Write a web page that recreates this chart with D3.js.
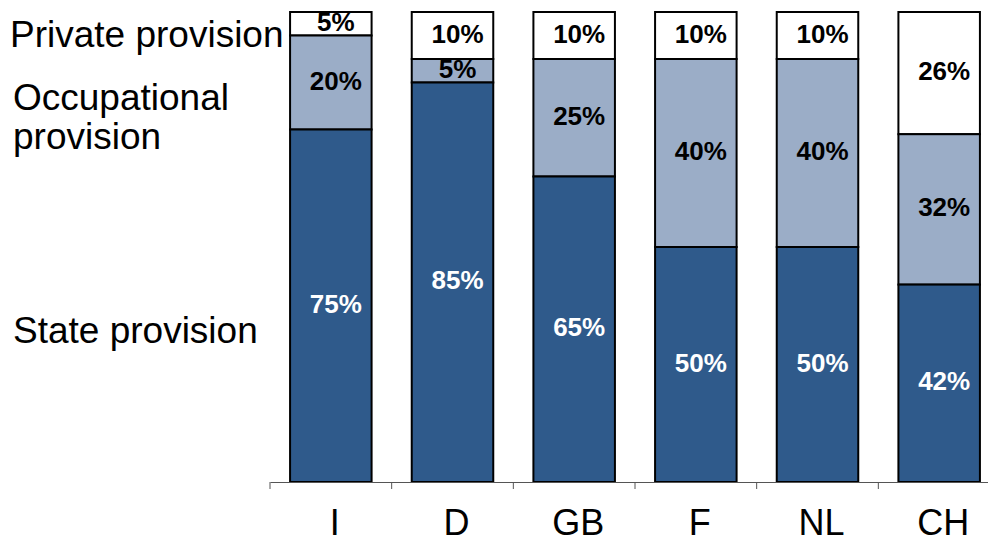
<!DOCTYPE html>
<html>
<head>
<meta charset="utf-8">
<script src="https://d3js.org/d3.v7.min.js"></script>
<style>
  body { margin: 0; background: white; }
  text { font-family: Arial, "Liberation Sans", sans-serif; }
</style>
</head>
<body>
<svg width="988" height="542"></svg>
<script>
// data
const countries = ['I', 'D', 'GB', 'F', 'NL', 'CH'];
const statePct = [75, 85, 65, 50, 50, 42];
const occupationalPct = [20, 5, 25, 40, 40, 32];
const privatePct = [5, 10, 10, 10, 10, 26];
const seriesNames = ['State provision', 'Occupational provision', 'Private provision'];

const svg = d3.select('svg');

var x = d3.scaleBand().domain(countries).range([270, 1000]).paddingInner(0.33).paddingOuter(0.165);
var y = d3.scaleLinear().domain([0, 100]).range([482, 12]);

var rows = countries.map(function (c, i) {
  return {country: c, state: statePct[i], occ: occupationalPct[i], priv: privatePct[i]};
});
var stack = d3.stack().keys(['state', 'occ', 'priv'])(rows);

var fills = {state: '#2f5a8b', occ: '#9badc7', priv: '#ffffff'};
var labelColors = {state: '#ffffff', occ: '#000000', priv: '#000000'};

// draw top layer first so lower segments cover overflowing labels
stack.slice().reverse().forEach(function (layer) {
  var g = svg.append('g');
  layer.forEach(function (d) {
    g.append('rect')
      .attr('x', x(d.data.country))
      .attr('y', y(d[1]))
      .attr('width', x.bandwidth())
      .attr('height', y(d[0]) - y(d[1]))
      .attr('fill', fills[layer.key])
      .attr('stroke', '#000')
      .attr('stroke-width', 2);
    g.append('text')
      .attr('x', x(d.data.country) + x.bandwidth() / 2 + 5)
      .attr('y', (y(d[0]) + y(d[1])) / 2 - 2)
      .attr('text-anchor', 'middle')
      .attr('dominant-baseline', 'central')
      .style('font-size', '26px')
      .style('font-weight', 'bold')
      .attr('fill', labelColors[layer.key])
      .text((d[1] - d[0]) + '%');
  });
});

// category axis
var axis = d3.axisBottom(x).tickSize(0).tickPadding(0).tickFormat('');
var ax = svg.append('g').attr('transform', 'translate(0,482)').call(axis);
ax.select('.domain').attr('stroke', '#555').attr('stroke-width', 1);
var step = x.step();
svg.append('g').selectAll('line').data(d3.range(countries.length + 1)).enter().append('line')
  .attr('x1', function (i) { return 270 + i * step; })
  .attr('x2', function (i) { return 270 + i * step; })
  .attr('y1', 482).attr('y2', 489)
  .attr('stroke', '#555');

svg.append('g').selectAll('text').data(countries).enter().append('text')
  .attr('x', function (d) { return x(d) + x.bandwidth() / 2 + 4; })
  .attr('y', 535)
  .attr('text-anchor', 'middle')
  .style('font-size', '36px')
  .text(function (d) { return d; });

// series names on the left
svg.append('text').attr('x', 10).attr('y', 47).style('font-size', '37px').text('Private provision');
svg.append('text').attr('x', 13).attr('y', 110).style('font-size', '37px').text('Occupational');
svg.append('text').attr('x', 13).attr('y', 149).style('font-size', '37px').text('provision');
svg.append('text').attr('x', 13).attr('y', 343).style('font-size', '37px').text(seriesNames[0]);
</script>
</body>
</html>
